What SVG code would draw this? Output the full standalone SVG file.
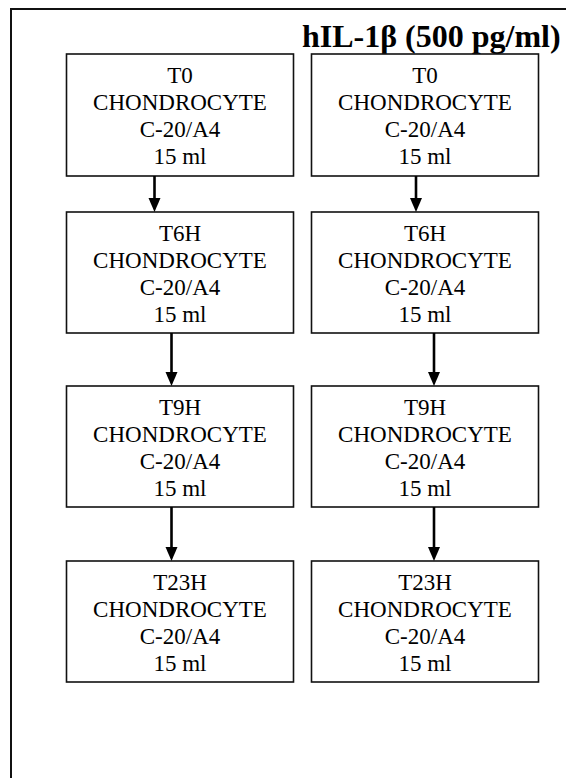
<svg xmlns="http://www.w3.org/2000/svg" width="566" height="778" viewBox="0 0 566 778">
<style>
.frame{fill:none;stroke:#111;stroke-width:2}
.box{fill:#fff;stroke:#111;stroke-width:1.6}
.t{font-family:"Liberation Serif","Times New Roman",serif;font-size:23px;fill:#000;text-anchor:middle}
.title{font-family:"Liberation Serif","Times New Roman",serif;font-size:32px;font-weight:bold;fill:#000}
.conn{stroke:#000;stroke-width:2.6;fill:none}
.head{fill:#000}
</style>
<rect width="566" height="778" fill="#fff"/>
<path class="frame" d="M11,778 V9 H566"/>
<text class="title" x="302" y="47">hIL-1β (500 pg/ml)</text>

<g id="L1"><rect class="box" x="66.5" y="54" width="227" height="122"/>
<text class="t" x="180" y="83">T0</text><text class="t" x="180" y="110">CHONDROCYTE</text><text class="t" x="180" y="137">C-20/A4</text><text class="t" x="180" y="164">15 ml</text></g>
<g id="R1"><rect class="box" x="311.5" y="54" width="227" height="122"/>
<text class="t" x="425" y="83">T0</text><text class="t" x="425" y="110">CHONDROCYTE</text><text class="t" x="425" y="137">C-20/A4</text><text class="t" x="425" y="164">15 ml</text></g>

<g id="L2"><rect class="box" x="66.5" y="212" width="227" height="121"/>
<text class="t" x="180" y="241">T6H</text><text class="t" x="180" y="268">CHONDROCYTE</text><text class="t" x="180" y="295">C-20/A4</text><text class="t" x="180" y="322">15 ml</text></g>
<g id="R2"><rect class="box" x="311.5" y="212" width="227" height="121"/>
<text class="t" x="425" y="241">T6H</text><text class="t" x="425" y="268">CHONDROCYTE</text><text class="t" x="425" y="295">C-20/A4</text><text class="t" x="425" y="322">15 ml</text></g>

<g id="L3"><rect class="box" x="66.5" y="386" width="227" height="121"/>
<text class="t" x="180" y="415">T9H</text><text class="t" x="180" y="442">CHONDROCYTE</text><text class="t" x="180" y="469">C-20/A4</text><text class="t" x="180" y="496">15 ml</text></g>
<g id="R3"><rect class="box" x="311.5" y="386" width="227" height="121"/>
<text class="t" x="425" y="415">T9H</text><text class="t" x="425" y="442">CHONDROCYTE</text><text class="t" x="425" y="469">C-20/A4</text><text class="t" x="425" y="496">15 ml</text></g>

<g id="L4"><rect class="box" x="66.5" y="561" width="227" height="121"/>
<text class="t" x="180" y="590">T23H</text><text class="t" x="180" y="617">CHONDROCYTE</text><text class="t" x="180" y="644">C-20/A4</text><text class="t" x="180" y="671">15 ml</text></g>
<g id="R4"><rect class="box" x="311.5" y="561" width="227" height="121"/>
<text class="t" x="425" y="590">T23H</text><text class="t" x="425" y="617">CHONDROCYTE</text><text class="t" x="425" y="644">C-20/A4</text><text class="t" x="425" y="671">15 ml</text></g>

<g id="connectors">
<line class="conn" x1="154.5" y1="176" x2="154.5" y2="200"/><path class="head" d="M148.5,198 H160.5 L154.5,212 Z"/>
<line class="conn" x1="416" y1="176" x2="416" y2="200"/><path class="head" d="M410,198 H422 L416,212 Z"/>
<line class="conn" x1="171.5" y1="333" x2="171.5" y2="374"/><path class="head" d="M165.5,372 H177.5 L171.5,386 Z"/>
<line class="conn" x1="434" y1="333" x2="434" y2="374"/><path class="head" d="M428,372 H440 L434,386 Z"/>
<line class="conn" x1="171.5" y1="507" x2="171.5" y2="549"/><path class="head" d="M165.5,547 H177.5 L171.5,561 Z"/>
<line class="conn" x1="434" y1="507" x2="434" y2="549"/><path class="head" d="M428,547 H440 L434,561 Z"/>
</g>
</svg>
